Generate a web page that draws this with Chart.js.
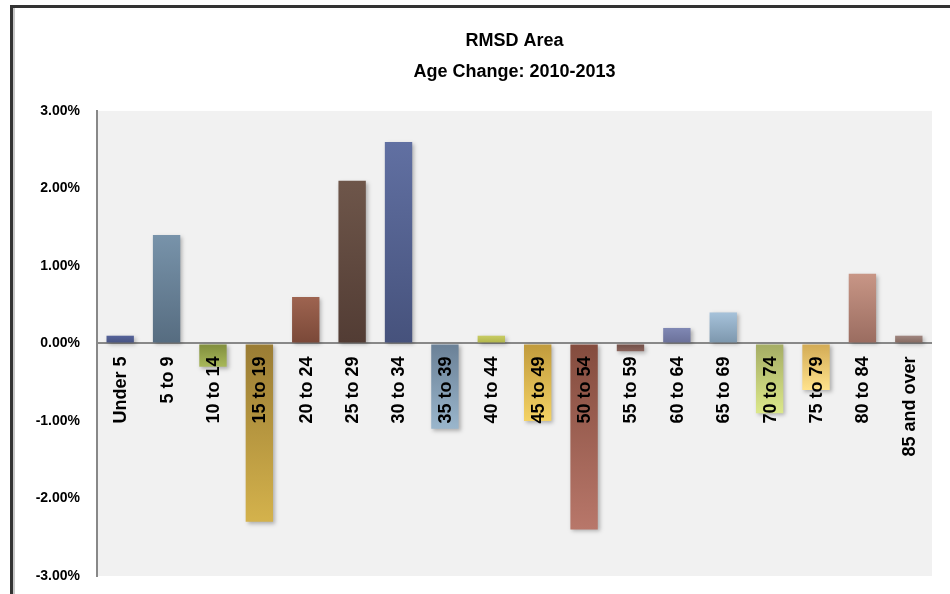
<!DOCTYPE html>
<html>
<head>
<meta charset="utf-8">
<title>RMSD Area - Age Change 2010-2013</title>
<script src="https://cdn.jsdelivr.net/npm/chart.js@4.4.1/dist/chart.umd.min.js"></script>
<style>
  html, body { margin: 0; padding: 0; background: #fff; overflow: hidden; }
  #wrap { position: relative; width: 950px; height: 594px; }
  #ageChart { position: absolute; left: 0; top: 0; }
  #frame {
    position: absolute; left: 10px; top: 5px; width: 960px; height: 600px;
    border-top: 3px solid #333; border-left: 3px solid #333;
    box-shadow: inset 2px 0 0 #c8c8c8;
    pointer-events: none;
  }
</style>
</head>
<body>
<div id="wrap">
  <canvas id="ageChart" width="950" height="594"></canvas>
  <div id="frame"></div>
</div>
<script>
// Age groups and % change 2010-2013
const ageGroups = ['Under 5', '5 to 9', '10 to 14', '15 to 19', '20 to 24', '25 to 29',
  '30 to 34', '35 to 39', '40 to 44', '45 to 49', '50 to 54', '55 to 59',
  '60 to 64', '65 to 69', '70 to 74', '75 to 79', '80 to 84', '85 and over'];
const changes = [0.1, 1.4, -0.3, -2.3, 0.6, 2.1, 2.6, -1.1, 0.1, -1.0, -2.4, -0.1,
  0.2, 0.4, -0.9, -0.6, 0.9, 0.1];
const yTicks = [-3, -2, -1, 0, 1, 2, 3];

// bar colours: shade at the zero line, shade at the far end
const darkColors = ['#465280', '#566c80', '#7f8c3c', '#9a7c34', '#7a4838', '#523c34',
  '#46527c', '#6a8096', '#b0b448', '#c09a3c', '#844c3e', '#6e4c44',
  '#6a7098', '#7c96ac', '#a4ac64', '#d2aa54', '#9a6c60', '#84685e'];
const lightColors = ['#56639a', '#7893aa', '#a8b85a', '#d4b24c', '#9e6450', '#6e564a',
  '#6170a2', '#9ab6cc', '#c8cc64', '#f4d264', '#b8776a', '#8a645c',
  '#8088b4', '#a6c2da', '#dce88a', '#ffe28c', '#c89686', '#a08680'];

const FONT = "'Liberation Sans', Arial, sans-serif";

function barFill(context) {
  const i = context.dataIndex;
  const chart = context.chart;
  if (i === undefined) return '#888';
  const y = chart.scales.y;
  if (!y || !chart.chartArea) return lightColors[i];
  const y0 = y.getPixelForValue(0);
  const y1 = y.getPixelForValue(changes[i]);
  if (y0 === y1) return darkColors[i];
  const g = chart.ctx.createLinearGradient(0, y0, 0, y1);
  g.addColorStop(0, darkColors[i]);
  g.addColorStop(1, lightColors[i]);
  return g;
}

// grey plot background
const plotBackground = {
  id: 'plotBackground',
  beforeDraw(chart) {
    const { ctx, chartArea: a } = chart;
    ctx.save();
    ctx.fillStyle = '#f1f1f1';
    ctx.fillRect(a.left, a.top, a.right - a.left, a.bottom - a.top);
    ctx.restore();
  }
};

// soft shadow under the bars
const barShadow = {
  id: 'barShadow',
  beforeDatasetsDraw(chart) {
    const ctx = chart.ctx;
    ctx.save();
    ctx.shadowColor = 'rgba(0,0,0,0.28)';
    ctx.shadowBlur = 4;
    ctx.shadowOffsetX = 2;
    ctx.shadowOffsetY = 2;
  },
  afterDatasetsDraw(chart) {
    chart.ctx.restore();
  }
};

// category labels sit just under the zero line, rotated
const zeroLabels = {
  id: 'zeroLabels',
  afterDatasetsDraw(chart) {
    const ctx = chart.ctx;
    const x = chart.scales.x;
    const y = chart.scales.y;
    const yz = y.getPixelForValue(0) + 13;
    ctx.save();
    ctx.fillStyle = '#000';
    ctx.font = 'bold 18px ' + FONT;
    ctx.textAlign = 'right';
    ctx.textBaseline = 'middle';
    ageGroups.forEach((label, i) => {
      ctx.save();
      ctx.translate(x.getPixelForValue(i) + 1, yz);
      ctx.rotate(-Math.PI / 2);
      ctx.fillText(label, 0, 0);
      ctx.restore();
    });
    ctx.restore();
  }
};

document.addEventListener('DOMContentLoaded', function() {
  const ctx = document.getElementById('ageChart').getContext('2d');

  new Chart(ctx, {
    type: 'bar',
    data: {
      labels: ageGroups,
      datasets: [{
        label: 'Age Change',
        data: changes,
        backgroundColor: barFill,
        borderWidth: 0,
        categoryPercentage: 1,
        barPercentage: 0.59
      }]
    },
    options: {
      responsive: false,
      animation: false,
      devicePixelRatio: 1,
      layout: { padding: { top: 8, left: 12, right: 18, bottom: 18 } },
      plugins: {
        legend: { display: false },
        tooltip: { enabled: false },
        title: {
          display: true,
          fullSize: false,
          text: ['RMSD Area', 'Age Change: 2010-2013'],
          color: '#000',
          font: { family: FONT, size: 18, weight: 'bold', lineHeight: 1.72 },
          padding: { top: 18, bottom: 23 }
        }
      },
      scales: {
        x: {
          display: false,
          grid: { display: false }
        },
        y: {
          min: -3,
          max: 3,
          afterFit: s => {
            s.width = 85;
            s.paddingTop = 0;
            s.paddingBottom = 0;
          },
          afterBuildTicks: s => { s.ticks = yTicks.map(v => ({ value: v })); },
          border: { display: true, color: '#888', width: 2 },
          grid: {
            drawTicks: false,
            color: c => (c.tick && c.tick.value === 0 ? '#888' : 'rgba(0,0,0,0)'),
            lineWidth: 2
          },
          ticks: {
            padding: 17,
            color: '#000',
            font: { family: FONT, size: 14, weight: 'bold' },
            callback: v => v.toFixed(2) + '%'
          }
        }
      }
    },
    plugins: [plotBackground, barShadow, zeroLabels]
  });
});
</script>
</body>
</html>
